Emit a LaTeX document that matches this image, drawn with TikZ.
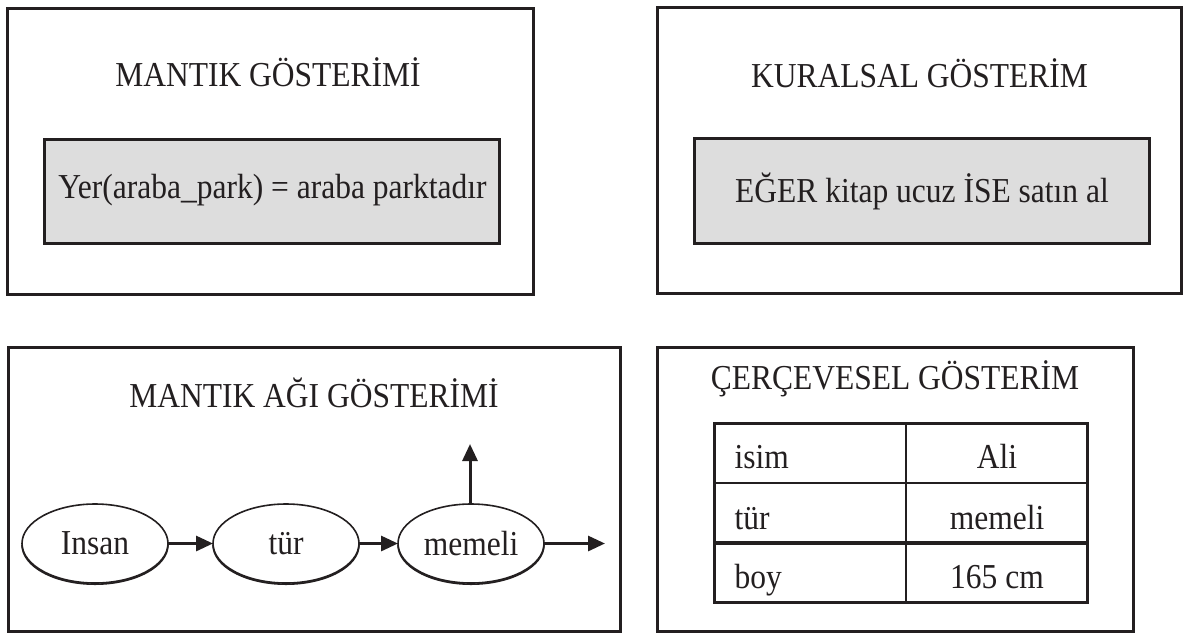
\documentclass[tikz,border=0pt]{standalone}
\usepackage{fontspec}
\setmainfont{Liberation Serif}[FakeStretch=0.9]
\usetikzlibrary{shapes.geometric,arrows.meta}
\definecolor{ink}{RGB}{35,31,32}
\definecolor{panelgray}{RGB}{221,221,221}
\tikzset{
  panel/.style={draw=ink, line width=3pt, rectangle, inner sep=0pt, outer sep=0pt},
  graybox/.style={panel, fill=panelgray},
  txt/.style={text=ink, inner sep=0pt, anchor=base, font=\fontsize{35}{40}\selectfont},
  oval/.style={draw=ink, line width=1.6pt, ellipse, inner sep=0pt, outer sep=0pt,
    minimum width=146pt, minimum height=79pt, text=ink, font=\fontsize{35}{40}\selectfont},
  ovalshade/.style={draw=ink, line width=1.6pt},
  arr/.style={draw=ink, line width=3pt, -{Triangle[length=17pt,width=15pt]}},
  rule/.style={draw=ink, line width=2.2pt},
  thickrule/.style={draw=ink, line width=4pt}
}
\begin{document}
\begin{tikzpicture}[x=1pt,y=-1pt]
\useasboundingbox (0,0) rectangle (1185,633);

% logic representation
\node[panel, minimum width=526pt, minimum height=286pt] (p1) at (270,151) {};
\node[txt] (t1) at (268,86.7) {MANTIK GÖSTERİMİ};
\node[graybox, minimum width=455pt, minimum height=104pt] (g1) at (272,191) {};
\node[txt] (e1) at (272.5,198) {Yer(araba\_park) = araba parktadır};

% rule-based representation
\node[panel, minimum width=524pt, minimum height=286pt] (p2) at (919,150) {};
\node[txt] (t2) at (919.5,87) {KURALSAL GÖSTERİM};
\node[graybox, minimum width=455pt, minimum height=105pt] (g2) at (921.5,190.5) {};
\node[txt] (e2) at (922,202) {EĞER kitap ucuz İSE satın al};

% semantic network representation
\node[panel, minimum width=612pt, minimum height=284pt] (p3) at (314,489) {};
\node[txt] (t3) at (314,407) {MANTIK AĞI GÖSTERİMİ};
\node[oval] (insan) at (95,543.5) {Insan};
\node[oval] (tur) at (286,543.5) {tür};
\node[oval] (memeli) at (471,543.5) {memeli};
% heavier lower rim of each ellipse
\foreach \n in {insan,tur,memeli}
  \draw[ovalshade] ([yshift=-1.2pt]\n.west) arc[start angle=180, end angle=360, x radius=73pt, y radius=39.5pt];
\coordinate (out) at (605,543.5);
\coordinate (up) at (470,444);
\draw[arr] (insan) -- (tur);
\draw[arr] (tur) -- (memeli);
\draw[arr] (memeli.east) -- (out);
\draw[arr] ([xshift=-1pt]memeli.north) -- (up);

% frame representation
\node[panel, minimum width=476pt, minimum height=284pt] (p4) at (895,489) {};
\node[txt] (t4) at (895,389) {ÇERÇEVESEL GÖSTERİM};
\node[panel, minimum width=373pt, minimum height=179pt] (tbl) at (900.5,512.5) {};
\draw[rule] (906,423) -- (906,602);
\draw[rule] (714,483) -- (1087,483);
\draw[thickrule] (714,543) -- (1087,543);
\node[txt, anchor=base west] (k1) at (734.5,468) {isim};
\node[txt] (v1) at (997,468) {Ali};
\node[txt, anchor=base west] (k2) at (734.5,529) {tür};
\node[txt] (v2) at (997,529) {memeli};
\node[txt, anchor=base west] (k3) at (734.5,588) {boy};
\node[txt] (v3) at (997,588) {165 cm};
\end{tikzpicture}
\end{document}
